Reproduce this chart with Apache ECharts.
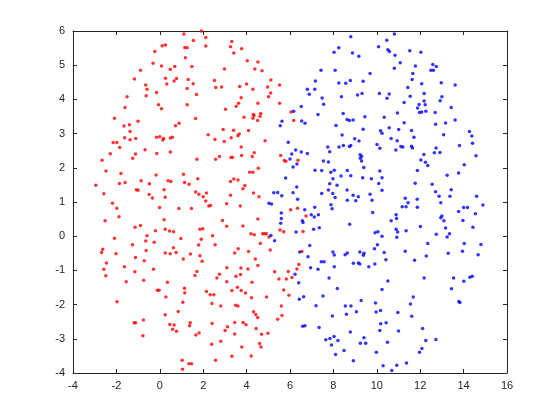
<!DOCTYPE html>
<html>
<head>
<meta charset="utf-8">
<script src="https://cdn.jsdelivr.net/npm/echarts@6/dist/echarts.min.js"></script>
<style>
html,body{margin:0;padding:0;background:#fff;}
#chart{width:560px;height:420px;}
</style>
</head>
<body>
<div id="chart"></div>
<script>
// Axis settings
const xMin = -4, xMax = 16, xStep = 2;
const yMin = -4, yMax = 6, yStep = 1;

// Red cluster (x, y)
const redPoints = [
[1.92,6.00],[1.11,5.91],[2.12,5.81],[1.55,5.72],[3.32,5.69],[0.11,5.57],[0.26,5.59],[1.15,5.52],[1.26,5.51],[2.12,5.56],[3.26,5.54],[3.41,5.36],[-0.23,5.40],[1.18,5.22],[-0.31,5.06],[0.08,4.98],[0.69,4.96],[0.48,4.88],[1.48,4.96],[-0.89,4.85],[2.98,4.89],[-1.17,4.60],[0.26,4.62],[0.77,4.61],[0.66,4.54],[1.31,4.58],[0.32,4.45],[1.54,4.46],[-0.65,4.42],[-0.59,4.30],[1.26,4.32],[2.52,4.55],[2.58,4.35],[2.85,4.36],[-0.15,4.20],[1.69,4.14],[-1.51,4.08],[-0.63,4.11],[-0.06,3.84],[0.08,3.73],[1.26,3.84],[-1.60,3.76],[3.03,3.71],
[3.77,5.48],[4.03,5.13],[4.52,5.09],[4.38,4.89],[4.71,4.84],[5.12,4.57],[4.00,4.45],[3.68,4.38],[4.29,4.30],[4.97,4.36],[5.52,4.42],[5.11,4.19],[5.01,4.08],[3.75,4.05],[3.63,3.89],[3.52,3.80],[4.52,3.89],[5.52,3.89],[4.65,3.59],[4.31,3.56],[6.05,3.63],
[-2.09,3.45],[-1.65,3.22],[-1.40,3.26],[-1.00,3.36],[-1.37,3.06],[-1.62,2.88],[-1.37,2.82],[-1.11,2.86],[-2.15,2.74],[-1.98,2.74],[-1.85,2.59],[-2.28,2.41],[-2.66,2.22],[-1.12,2.40],[-1.25,2.28],[-0.68,2.53],[-0.14,2.42],[-0.15,2.89],[0.00,2.91],[0.14,2.81],[0.18,2.86],[0.49,2.87],[0.58,2.89],[0.49,2.46],[0.72,3.23],[0.89,3.30],[1.65,3.44],[2.23,2.97],[2.54,2.83],[2.92,3.12],[2.97,2.77],[3.29,2.88],[3.40,3.10],[1.71,2.25],[2.57,2.25],[2.75,2.33],[3.28,2.30],[3.35,2.30],[-2.48,1.91],[-1.79,1.83],[-2.95,1.49],[-2.58,1.24],[-1.86,1.54],[-1.60,1.57],[-0.86,1.62],[-1.08,1.36],[-1.00,1.34],[-0.48,1.53],[-0.17,1.79],[-0.49,1.22],[-0.34,1.12],[0.20,1.36],[0.25,1.14],[0.38,1.62],[0.51,1.60],[1.09,1.81],[1.14,1.57],[1.35,1.52],[1.75,1.68],[1.65,1.29],[1.80,1.23],[2.15,1.26],[2.00,1.15],[3.26,1.20],[3.26,1.60],[3.41,1.67],
[3.88,3.48],[4.29,3.45],[4.34,3.53],[4.51,3.38],[4.62,3.51],[6.17,3.38],[3.66,2.99],[3.60,2.94],[4.09,3.09],[4.85,2.79],[3.75,2.61],[3.77,2.36],[4.26,2.33],[4.35,2.44],[5.57,2.36],[5.74,2.21],[5.81,2.19],[6.37,2.22],[4.54,1.99],[4.14,1.87],[4.29,1.87],[3.60,1.64],[3.92,1.48],[3.83,1.39],[4.32,1.26],[4.57,1.15],
[-2.18,0.96],[-1.98,0.82],[-1.88,0.57],[-2.52,0.45],[-0.01,0.84],[0.88,0.81],[1.46,0.81],[2.12,1.03],[2.26,0.88],[2.34,0.90],[3.08,0.95],[0.20,0.48],[2.89,0.46],[3.08,0.29],[-1.14,0.26],[-0.89,0.31],[-0.20,0.16],[0.25,0.20],[0.45,0.15],[0.63,0.13],[1.85,0.20],[1.98,0.22],[-0.59,0.01],[-0.65,-0.14],[-0.26,-0.18],[0.97,-0.07],[1.91,-0.09],[2.43,0.01],[-2.09,-0.06],[-1.26,-0.25],[1.79,-0.26],[2.55,-0.25],[0.63,-0.34],[-2.63,-0.38],[-2.68,-0.48],[-2.02,-0.51],[-0.63,-0.42],[0.25,-0.49],[0.48,-0.51],[0.75,-0.48],[1.41,-0.52],[1.85,-0.57],[-1.12,-0.62],[1.08,-0.67],[1.95,-0.73],[-0.72,-0.72],[-2.46,-0.78],[-2.58,-0.97],[-1.63,-0.89],[-0.29,-0.97],[-1.15,-1.04],[-2.49,-1.16],[1.71,-1.03],[1.62,-1.15],[3.09,-0.92],[2.75,-1.11],[2.63,-1.22],[-1.55,-1.33],[-0.74,-1.29],[0.35,-1.35],[3.09,-1.33],[3.45,-0.49],
[3.71,0.88],[3.83,0.30],[4.52,0.50],[4.20,0.07],[4.35,0.04],[4.74,0.07],[4.83,0.07],[4.91,0.07],[5.03,-0.02],[4.63,-0.21],[5.54,0.18],[5.71,0.13],[6.03,0.77],[6.35,0.82],[6.74,0.59],[6.60,0.14],[3.61,-0.37],[4.09,-0.45],[5.09,-0.40],[4.40,-0.67],[4.52,-0.86],[3.74,-0.93],[4.06,-0.96],[3.72,-1.12],[3.51,-1.17],[4.25,-1.35],[6.55,-0.45],[6.41,-0.83],[6.32,-0.96],[5.29,-1.04],[5.92,-1.03],[5.49,-1.25],[5.83,-1.25],[6.09,-1.21],
[-0.11,-1.58],[-0.03,-1.58],[1.14,-1.52],[1.15,-1.65],[0.28,-1.78],[1.06,-1.93],[-1.97,-1.92],[2.15,-1.62],[2.32,-1.71],[2.49,-1.71],[3.32,-1.59],[2.40,-1.97],[2.81,-2.04],[0.85,-2.20],[0.25,-2.30],[-0.75,-2.45],[-1.18,-2.53],[-1.12,-2.53],[-0.78,-2.91],[0.46,-2.58],[0.66,-2.60],[0.59,-2.72],[0.77,-2.78],[1.40,-2.53],[1.37,-2.62],[1.81,-2.83],[1.66,-2.89],[2.41,-2.55],[3.12,-2.65],[3.01,-2.76],[3.45,-2.52],[3.45,-2.86],[2.81,-3.07],[2.39,-3.16],[3.32,-3.51],[2.57,-3.63],[1.03,-3.63],[1.34,-3.73],[1.46,-3.73],[1.05,-3.89],
[3.58,-1.49],[3.75,-1.59],[3.95,-1.66],[4.23,-1.80],[4.92,-1.78],[5.71,-1.57],[5.95,-1.73],[3.49,-2.02],[3.60,-2.04],[5.60,-2.04],[4.32,-2.21],[4.42,-2.29],[4.51,-2.38],[5.63,-2.32],[5.43,-2.43],[3.84,-2.52],[3.97,-2.59],[4.44,-2.70],[4.69,-2.87],[4.98,-2.84],[4.60,-3.14],[4.66,-3.24],[3.78,-3.24],[4.21,-3.50]
];

// Blue cluster (x, y)
const bluePoints = [
[8.80,5.83],[10.08,5.54],[8.25,5.51],[8.03,5.38],[8.88,5.36],[9.17,5.26],[7.43,4.85],[8.08,4.85],[9.69,4.76],[7.17,4.54],[8.25,4.48],[8.57,4.47],[8.78,4.55],[9.37,4.53],[6.80,4.30],[7.14,4.30],[6.89,4.15],[7.48,4.04],[8.37,4.08],[9.11,4.13],[9.32,4.17],[10.12,4.17],[7.55,3.86],[6.52,3.79],[6.17,3.65],[7.29,3.56],[8.45,3.59],
[10.81,5.91],[10.46,5.73],[10.51,5.45],[10.58,5.40],[11.52,5.42],[12.03,5.38],[10.84,5.29],[11.08,5.07],[11.78,4.98],[12.58,5.02],[12.74,4.96],[12.49,4.85],[12.61,4.85],[10.81,4.91],[11.66,4.76],[11.63,4.58],[12.07,4.46],[12.97,4.49],[13.61,4.42],[11.43,4.35],[12.18,4.17],[10.57,4.16],[10.47,4.03],[11.54,4.09],[13.00,4.08],[12.92,3.96],[11.26,3.91],[12.18,3.95],[11.95,3.85],[12.23,3.84],[11.88,3.75],[13.43,3.76],[10.95,3.60],[11.97,3.62],[12.07,3.63],[12.26,3.65],[12.69,3.62],
[5.63,3.36],[5.55,3.23],[6.54,3.37],[6.69,3.30],[8.12,3.24],[8.63,3.41],[8.74,3.38],[8.91,3.40],[9.45,3.49],[9.37,3.13],[10.17,3.08],[10.24,3.01],[10.34,3.48],[8.40,2.96],[8.98,2.85],[9.18,2.78],[7.74,2.61],[8.26,2.61],[8.46,2.65],[8.74,2.62],[8.80,2.65],[7.83,2.47],[5.92,2.75],[6.26,2.52],[6.52,2.46],[6.80,2.42],[6.00,2.26],[6.08,2.40],[6.32,2.11],[6.14,2.02],[7.54,2.20],[7.77,2.17],[9.23,2.38],[9.30,2.34],[9.24,2.28],[9.30,2.20],[10.01,2.68],[10.14,2.57],[7.15,1.93],[7.46,1.92],[7.88,1.87],[8.04,1.93],[8.35,1.76],[8.64,1.92],[8.80,1.77],[9.40,2.01],[9.35,1.71],[9.75,1.68],[10.14,1.91],[10.24,1.71],[5.80,1.70],[7.98,1.68],[8.17,1.49],[7.83,1.53],[6.31,1.44],[6.14,1.27],[5.43,1.28],[5.25,1.27],[5.62,1.18],[6.35,1.08],[7.46,1.25],[7.77,1.35],[7.97,1.25],[8.08,1.13],[8.63,1.35],[8.91,1.20],[9.15,1.15],[9.69,1.23],[10.09,1.54],[10.24,1.34],
[11.26,3.32],[10.57,3.17],[11.01,3.12],[11.60,3.09],[12.71,3.27],[13.17,3.31],[13.61,3.40],[13.08,2.97],[14.27,3.06],[14.38,2.93],[10.66,2.86],[10.94,2.79],[11.71,2.89],[14.41,2.72],[13.81,2.65],[11.11,2.62],[11.20,2.61],[11.60,2.63],[11.64,2.58],[10.88,2.52],[12.73,2.58],[12.65,2.44],[12.91,2.45],[12.17,2.39],[14.57,2.35],[12.03,2.23],[12.24,2.16],[12.35,2.07],[14.03,2.09],[11.87,1.92],[13.77,1.85],[13.24,1.78],[11.77,1.55],[12.55,1.52],[13.43,1.36],[12.71,1.30],[12.87,1.17],[13.37,1.17],[14.60,1.17],[11.31,1.11],[11.86,1.08],
[5.03,0.96],[5.15,0.94],[6.68,0.77],[7.14,0.85],[7.89,0.92],[7.94,0.80],[8.64,1.05],[9.03,1.04],[9.78,1.05],[5.60,0.68],[5.60,0.52],[5.57,0.38],[6.98,0.63],[7.12,0.56],[7.31,0.63],[6.57,0.45],[6.60,0.40],[9.81,0.69],[8.75,0.35],[7.09,0.20],[7.35,0.25],[6.28,0.12],[5.12,0.02],[5.29,-0.13],[9.92,0.10],[10.05,0.13],[10.24,0.00],[6.91,-0.27],[6.45,-0.46],[6.83,-0.60],[7.98,-0.46],[8.04,-0.55],[8.54,-0.54],[8.64,-0.49],[9.22,-0.46],[9.41,-0.50],[9.38,-0.56],[9.89,-0.37],[10.03,-0.25],[10.34,-0.48],[7.44,-0.75],[7.57,-0.75],[8.92,-0.79],[9.15,-0.78],[9.22,-0.81],[9.91,-0.81],[6.95,-0.92],[7.29,-0.97],[8.04,-0.89],[9.63,-0.89],[6.23,-1.11],[7.80,-1.22],[6.40,-1.36],
[11.44,0.98],[12.95,0.98],[11.17,0.86],[11.35,0.86],[11.87,0.85],[14.00,0.84],[14.18,0.84],[14.89,0.91],[13.77,0.72],[10.89,0.63],[10.91,0.52],[10.66,0.45],[13.00,0.59],[12.95,0.54],[13.09,0.45],[13.97,0.46],[14.54,0.66],[12.01,0.28],[13.17,0.24],[14.43,0.26],[10.89,0.20],[10.96,0.12],[11.35,0.16],[10.92,-0.03],[12.74,0.06],[13.35,0.07],[13.24,-0.02],[12.35,-0.21],[14.03,-0.21],[14.80,-0.24],[11.31,-0.44],[13.29,-0.50],[13.95,-0.44],[14.67,-0.54],[12.28,-0.58],[10.42,-0.69],[11.74,-0.70],[10.51,-1.31],[12.18,-1.22],[13.54,-1.22],[14.01,-1.32],[14.29,-1.20],[14.40,-1.17],
[8.18,-1.53],[10.24,-1.56],[6.43,-1.84],[6.63,-1.77],[7.52,-1.75],[7.20,-2.03],[8.55,-2.04],[8.81,-2.04],[9.28,-1.88],[9.94,-1.95],[10.17,-2.17],[9.97,-2.22],[8.60,-2.28],[9.06,-2.21],[7.95,-2.33],[6.58,-2.63],[6.69,-2.62],[7.34,-2.67],[10.18,-2.56],[10.14,-2.76],[8.78,-2.80],[7.65,-3.03],[7.84,-2.99],[8.03,-2.93],[8.21,-3.05],[7.91,-3.18],[9.41,-2.97],[9.24,-3.13],[9.49,-3.13],[8.49,-3.34],[8.10,-3.46],[8.92,-3.64],[9.98,-3.39],[10.29,-3.79],
[13.44,-1.54],[13.78,-1.91],[13.83,-1.94],[11.68,-1.78],[11.55,-1.98],[10.97,-2.23],[11.61,-2.34],[10.43,-2.53],[11.00,-2.77],[12.11,-2.70],[10.49,-3.10],[12.26,-3.05],[12.72,-3.02],[12.08,-3.28],[11.97,-3.39],[11.37,-3.71],[10.92,-3.77],[10.69,-3.93]
];

const axisColor = '#262626';
const font = '"Liberation Sans", Arial, Helvetica, sans-serif';

function makeX(pos, showLabel) {
  return {
    type: 'value', position: pos, min: xMin, max: xMax, interval: xStep,
    axisLine: { show: true, onZero: false, lineStyle: { color: axisColor, width: 1 } },
    axisTick: { show: true, inside: true, length: 4, lineStyle: { color: axisColor } },
    axisLabel: { show: showLabel, color: axisColor, fontSize: 11, fontFamily: font, margin: 7 },
    splitLine: { show: false }
  };
}
function makeY(pos, showLabel) {
  return {
    type: 'value', position: pos, min: yMin, max: yMax, interval: yStep,
    axisLine: { show: true, onZero: false, lineStyle: { color: axisColor, width: 1 } },
    axisTick: { show: true, inside: true, length: 4, lineStyle: { color: axisColor } },
    axisLabel: { show: showLabel, color: axisColor, fontSize: 11, fontFamily: font, margin: 8 },
    splitLine: { show: false }
  };
}

const chart = echarts.init(document.getElementById('chart'), null, { renderer: 'canvas' });
chart.setOption({
  animation: false,
  backgroundColor: '#ffffff',
  grid: { left: 73, right: 53, top: 31, bottom: 47, containLabel: false },
  xAxis: [makeX('bottom', true), makeX('top', false)],
  yAxis: [makeY('left', true), makeY('right', false)],
  series: [
    { type: 'scatter', xAxisIndex: 0, yAxisIndex: 0, data: redPoints, symbol: 'circle', symbolSize: 3.5,
      itemStyle: { color: '#ff0000' }, silent: true },
    { type: 'scatter', xAxisIndex: 0, yAxisIndex: 0, data: bluePoints, symbol: 'circle', symbolSize: 3.5,
      itemStyle: { color: '#0000ff' }, silent: true }
  ]
});
</script>
</body>
</html>
